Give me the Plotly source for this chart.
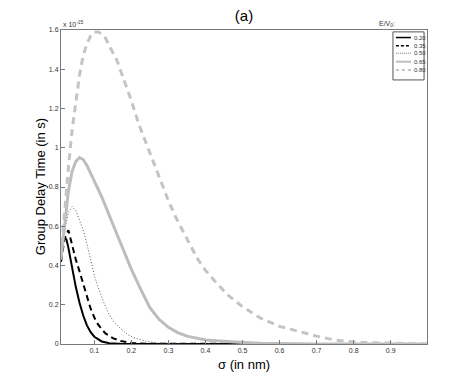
import plotly.graph_objects as go

# sigma (nm) and group delay time (x 1e-15 s)
x_020 = [0.01, 0.015, 0.02, 0.025, 0.03, 0.04, 0.05, 0.06, 0.07, 0.08, 0.09, 0.10,
         0.12, 0.14, 0.16, 0.18, 0.20, 1.0]
y_020 = [0.42, 0.52, 0.545, 0.53, 0.49, 0.38, 0.29, 0.21, 0.145, 0.095, 0.06, 0.037,
         0.013, 0.004, 0.001, 0.0, 0.0, 0.0]

x_035 = [0.01, 0.02, 0.03, 0.04, 0.05, 0.06, 0.07, 0.08, 0.09, 0.10, 0.11, 0.12,
         0.13, 0.15, 0.17, 0.20, 0.25, 1.0]
y_035 = [0.42, 0.54, 0.58, 0.50, 0.43, 0.37, 0.31, 0.24, 0.18, 0.135, 0.10, 0.075,
         0.054, 0.03, 0.016, 0.005, 0.001, 0.0]

x_050 = [0.01, 0.02, 0.03, 0.04, 0.05, 0.06, 0.07, 0.08, 0.09, 0.10, 0.11, 0.12,
         0.13, 0.14, 0.15, 0.17, 0.19, 0.21, 0.24, 0.27, 0.30, 0.35, 1.0]
y_050 = [0.43, 0.58, 0.67, 0.70, 0.68, 0.63, 0.58, 0.51, 0.43, 0.35, 0.29, 0.235,
         0.19, 0.15, 0.12, 0.08, 0.048, 0.03, 0.014, 0.005, 0.002, 0.0, 0.0]

x_065 = [0.01, 0.02, 0.03, 0.04, 0.05, 0.06, 0.07, 0.08, 0.09, 0.10, 0.12, 0.15,
         0.175, 0.20, 0.225, 0.25, 0.275, 0.30, 0.325, 0.35, 0.40, 0.45, 0.50,
         0.55, 0.60, 0.70, 1.0]
y_065 = [0.43, 0.62, 0.78, 0.88, 0.93, 0.95, 0.94, 0.91, 0.87, 0.83, 0.75, 0.61,
         0.49, 0.38, 0.28, 0.185, 0.125, 0.085, 0.058, 0.04, 0.02, 0.013, 0.008,
         0.004, 0.002, 0.0, 0.0]

x_080 = [0.01, 0.02, 0.03, 0.04, 0.05, 0.06, 0.07, 0.08, 0.09, 0.10, 0.11, 0.12,
         0.13, 0.14, 0.16, 0.18, 0.20, 0.22, 0.24, 0.26, 0.28, 0.30, 0.32, 0.34,
         0.36, 0.38, 0.40, 0.43, 0.46, 0.50, 0.55, 0.60, 0.65, 0.70, 0.75, 0.80,
         0.85, 0.90, 0.95, 1.0]
y_080 = [0.45, 0.68, 0.90, 1.09, 1.23, 1.37, 1.47, 1.53, 1.57, 1.59, 1.59, 1.58,
         1.56, 1.52, 1.45, 1.35, 1.24, 1.12, 1.02, 0.92, 0.82, 0.73, 0.645, 0.57,
         0.50, 0.43, 0.375, 0.31, 0.25, 0.19, 0.13, 0.09, 0.065, 0.04, 0.02, 0.01,
         0.006, 0.003, 0.001, 0.0]

names = ["0.20", "0.35", "0.50", "0.65", "0.80"]
xs = [x_020, x_035, x_050, x_065, x_080]
ys = [y_020, y_035, y_050, y_065, y_080]
styles = [
    dict(color="black", width=2, dash="solid"),
    dict(color="black", width=2, dash="6px,4px"),
    dict(color="#555555", width=1, dash="1px,2px"),
    dict(color="#bdbdbd", width=3, dash="solid"),
    dict(color="#c4c4c4", width=3, dash="7px,5px"),
]
# legend sample lines are drawn a bit thinner / shorter dashes
legend_styles = [
    dict(color="black", width=1.5, dash="solid"),
    dict(color="black", width=1.5, dash="3px,2px"),
    dict(color="#777777", width=1, dash="1px,1px"),
    dict(color="#bdbdbd", width=2, dash="solid"),
    dict(color="#c4c4c4", width=2, dash="3px,3px"),
]

font = "Liberation Sans Narrow, Arial Narrow, Liberation Sans, Arial"
axcol = "#7a7a7a"

fig = go.Figure()
for n, x, y, st in zip(names, xs, ys, styles):
    fig.add_trace(go.Scatter(x=x, y=y, name=n, mode="lines", line=st, showlegend=False))

# hand-drawn compact legend (paper coords)
fig.add_shape(type="rect", xref="paper", yref="paper", x0=0.907, x1=0.992, y0=0.841, y1=0.994,
              line=dict(color="#555555", width=1), fillcolor="white", layer="above")
legend_y = [0.976, 0.950, 0.926, 0.899, 0.873]
for n, st, ly in zip(names, legend_styles, legend_y):
    fig.add_shape(type="line", xref="paper", yref="paper", x0=0.915, x1=0.956, y0=ly, y1=ly,
                  line=st, layer="above")
    fig.add_annotation(text=n, xref="paper", yref="paper", x=0.958, y=ly, xanchor="left",
                       yanchor="middle", showarrow=False,
                       font=dict(size=6, family=font, color="#333333"))

# page body has an 8px margin, so the figure is drawn 8px smaller and shifted
fig.update_layout(
    width=463, height=380,
    margin=dict(l=53, r=44, t=22, b=44),
    paper_bgcolor="white", plot_bgcolor="white",
    font=dict(family=font, size=7, color="#333333"),
    title=dict(text="(a)", xref="paper", x=0.5, xanchor="center", y=0.979, yanchor="middle",
               font=dict(family="Liberation Sans, Arial", size=15, color="black")),
    showlegend=False,
)
fig.add_annotation(text="x 10<sup>-15</sup>", xref="paper", yref="paper", x=0.0, y=1.0,
                   xanchor="left", yanchor="bottom", showarrow=False,
                   font=dict(size=7, family=font, color="#333333"))
fig.add_annotation(text="E/V<sub>0</sub>:", xref="paper", yref="paper", x=0.89, y=1.0,
                   xanchor="center", yanchor="bottom", showarrow=False,
                   font=dict(size=7, family=font, color="#333333"))
fig.add_annotation(text="σ (in nm)", xref="paper", yref="paper", x=0.5, y=-0.064,
                   xanchor="center", yanchor="middle", showarrow=False,
                   font=dict(family="Liberation Sans, Arial", size=13, color="black"))
fig.add_annotation(text="Group Delay Time (in s)", xref="paper", yref="paper", x=-0.057, y=0.5,
                   xanchor="center", yanchor="middle", textangle=-90, showarrow=False,
                   font=dict(family="Liberation Sans, Arial", size=13, color="black"))

fig.update_xaxes(
    range=[0.01, 0.998], tickvals=[0.1, 0.2, 0.3, 0.4, 0.5, 0.6, 0.7, 0.8, 0.9],
    ticks="inside", ticklen=4, tickcolor=axcol, showgrid=False, zeroline=False,
    showline=True, linecolor=axcol, linewidth=1, mirror=True,
)
fig.update_yaxes(
    range=[0, 1.6], tickvals=[0, 0.2, 0.4, 0.6, 0.8, 1, 1.2, 1.4, 1.6],
    ticktext=["0", "0.2", "0.4", "0.6", "0.8", "1", "1.2", "1.4", "1.6"],
    ticks="inside", ticklen=4, tickcolor=axcol, showgrid=False, zeroline=False,
    showline=True, linecolor=axcol, linewidth=1, mirror=True,
)

fig.write_html("out.html")
